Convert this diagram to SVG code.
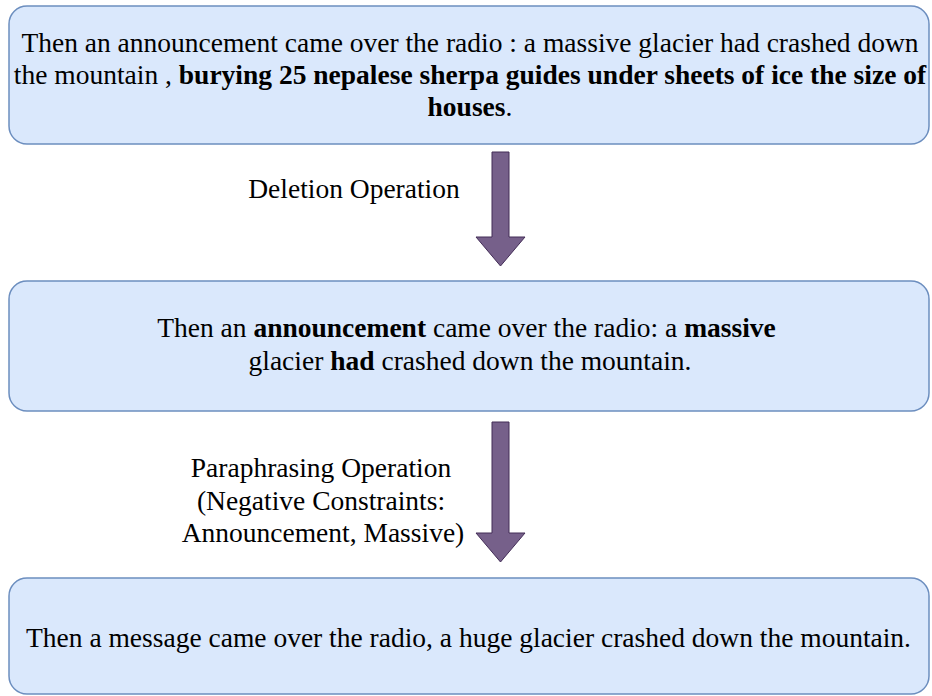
<svg xmlns="http://www.w3.org/2000/svg" width="932" height="696" viewBox="0 0 932 696">
  <style>
    .box { fill: #dae8fc; stroke: #6c8ebf; stroke-width: 1.5; }
    .arrow { fill: #76608a; stroke: #432d57; stroke-width: 1; }
    .b { font-weight: bold; }
  </style>
  <rect width="932" height="696" fill="#ffffff"/>

  <g id="original">
    <rect class="box" x="9" y="6" width="920" height="138" rx="18"/>
    <text x="470" y="52" text-anchor="middle" style="font-family: 'Liberation Serif', serif; font-size: 27.5px">Then an announcement came over the radio : a massive glacier had crashed down</text>
    <text x="470" y="84" text-anchor="middle" style="font-family: 'Liberation Serif', serif; font-size: 27.5px">the mountain , <tspan class="b">burying 25 nepalese sherpa guides under sheets of ice the size of</tspan></text>
    <text x="470" y="116" text-anchor="middle" style="font-family: 'Liberation Serif', serif; font-size: 27.5px"><tspan class="b">houses</tspan>.</text>
  </g>

  <g id="deleted">
    <rect class="box" x="9" y="281" width="920" height="130" rx="18"/>
    <text x="466.5" y="337" text-anchor="middle" style="font-family: 'Liberation Serif', serif; font-size: 27.5px">Then an <tspan class="b">announcement</tspan> came over the radio: a <tspan class="b">massive</tspan></text>
    <text x="470" y="370" text-anchor="middle" style="font-family: 'Liberation Serif', serif; font-size: 27.5px">glacier <tspan class="b">had</tspan> crashed down the mountain.</text>
  </g>

  <g id="paraphrased">
    <rect class="box" x="9" y="578" width="920" height="116" rx="18"/>
    <text x="468.5" y="647" text-anchor="middle" style="font-family: 'Liberation Serif', serif; font-size: 27.5px">Then a message came over the radio, a huge glacier crashed down the mountain.</text>
  </g>

  <g id="connectors">
    <path class="arrow" d="M492,152 H509 V237 H525 L500.5,266 L476,237 H492 Z"/>
    <text x="354" y="198" text-anchor="middle" style="font-family: 'Liberation Serif', serif; font-size: 27.5px">Deletion Operation</text>
    <path class="arrow" d="M492,422 H509 V533 H525 L500.5,562 L476,533 H492 Z"/>
    <text x="321" y="477" text-anchor="middle" style="font-family: 'Liberation Serif', serif; font-size: 27.5px">Paraphrasing Operation</text>
    <text x="321" y="510" text-anchor="middle" style="font-family: 'Liberation Serif', serif; font-size: 27.5px">(Negative Constraints:</text>
    <text x="323" y="542" text-anchor="middle" style="font-family: 'Liberation Serif', serif; font-size: 27.5px">Announcement, Massive)</text>
  </g>
</svg>
